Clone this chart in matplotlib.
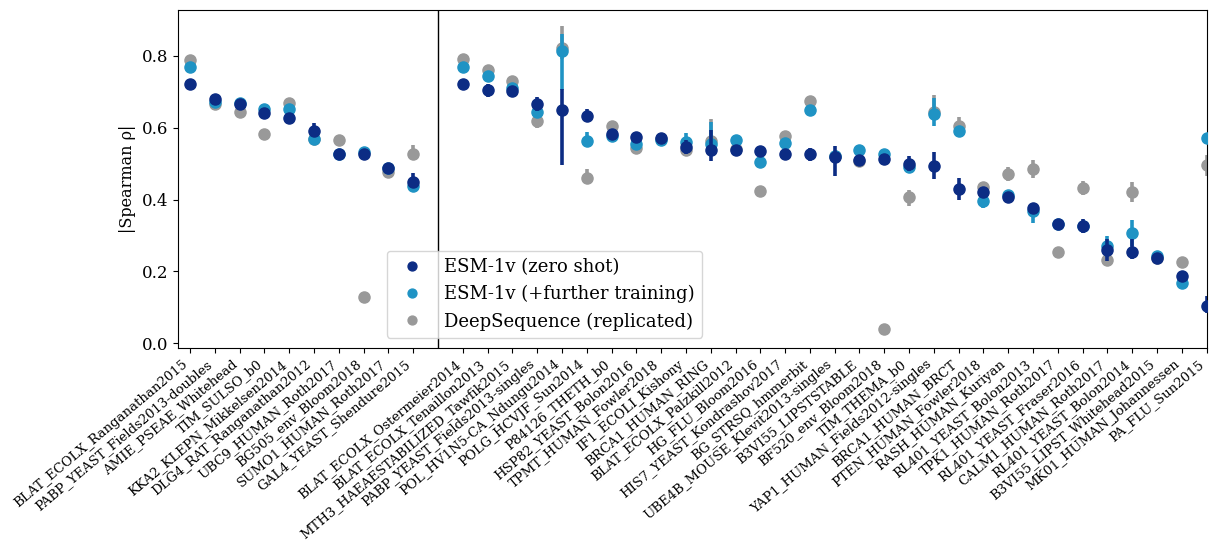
import matplotlib
matplotlib.use("Agg")
import matplotlib.pyplot as plt
import numpy as np

plt.rcParams['font.family'] = ['DejaVu Serif']

group1 = ["BLAT_ECOLX_Ranganathan2015", "PABP_YEAST_Fields2013-doubles", "AMIE_PSEAE_Whitehead",
          "TIM_SULSO_b0", "KKA2_KLEPN_Mikkelsen2014", "DLG4_RAT_Ranganathan2012",
          "UBC9_HUMAN_Roth2017", "BG505_env_Bloom2018", "SUMO1_HUMAN_Roth2017",
          "GAL4_YEAST_Shendure2015"]
group2 = ["BLAT_ECOLX_Ostermeier2014", "BLAT_ECOLX_Tenaillon2013", "MTH3_HAEAESTABILIZED_Tawfik2015",
          "PABP_YEAST_Fields2013-singles", "POL_HV1N5-CA_Ndungu2014", "POLG_HCVJF_Sun2014",
          "P84126_THETH_b0", "HSP82_YEAST_Bolon2016", "TPMT_HUMAN_Fowler2018", "IF1_ECOLI_Kishony",
          "BRCA1_HUMAN_RING", "BLAT_ECOLX_Palzkill2012", "HG_FLU_Bloom2016",
          "HIS7_YEAST_Kondrashov2017", "BG_STRSQ_hmmerbit", "UBE4B_MOUSE_Klevit2013-singles",
          "B3VI55_LIPSTSTABLE", "BF520_env_Bloom2018", "TIM_THEMA_b0",
          "YAP1_HUMAN_Fields2012-singles", "BRCA1_HUMAN_BRCT", "PTEN_HUMAN_Fowler2018",
          "RASH_HUMAN_Kuriyan", "RL401_YEAST_Bolon2013", "TPK1_HUMAN_Roth2017",
          "RL401_YEAST_Fraser2016", "CALM1_HUMAN_Roth2017", "RL401_YEAST_Bolon2014",
          "B3VI55_LIPST_Whitehead2015", "MK01_HUMAN_Johannessen", "PA_FLU_Sun2015"]

zero_shot = [0.723, 0.680, 0.665, 0.641, 0.627, 0.592, 0.527, 0.527, 0.488, 0.449,
             0.722, 0.704, 0.702, 0.666, 0.650, 0.632, 0.583, 0.574, 0.572, 0.546,
             0.539, 0.537, 0.536, 0.528, 0.526, 0.519, 0.511, 0.512, 0.500, 0.493,
             0.429, 0.421, 0.408, 0.376, 0.331, 0.327, 0.260, 0.254, 0.238, 0.186, 0.103]
zero_lo = [0.004, 0.008, 0.008, 0.012, 0.005, 0.012, 0.005, 0.005, 0.015, 0.012,
           0.005, 0.018, 0.010, 0.020, 0.155, 0.015, 0.010, 0.008, 0.005, 0.020,
           0.032, 0.005, 0.005, 0.005, 0.018, 0.054, 0.005, 0.005, 0.020, 0.035,
           0.030, 0.015, 0.010, 0.015, 0.005, 0.020, 0.030, 0.020, 0.008, 0.015, 0.020]
zero_hi = [0.004, 0.008, 0.008, 0.012, 0.005, 0.022, 0.005, 0.005, 0.015, 0.025,
           0.005, 0.018, 0.010, 0.020, 0.058, 0.020, 0.010, 0.008, 0.005, 0.020,
           0.054, 0.005, 0.005, 0.005, 0.018, 0.029, 0.005, 0.005, 0.020, 0.040,
           0.030, 0.015, 0.010, 0.015, 0.005, 0.020, 0.030, 0.035, 0.008, 0.015, 0.028]

further = [0.770, 0.672, 0.670, 0.653, 0.652, 0.568, 0.528, 0.532, 0.487, 0.438,
           0.770, 0.745, 0.710, 0.645, 0.815, 0.563, 0.577, 0.554, 0.566, 0.560,
           0.556, 0.566, 0.506, 0.557, 0.650, 0.520, 0.539, 0.526, 0.491, 0.639,
           0.590, 0.396, 0.414, 0.369, 0.331, 0.327, 0.270, 0.307, 0.243, 0.169, 0.572]
further_lo = [0.005, 0.005, 0.005, 0.005, 0.005, 0.005, 0.005, 0.005, 0.005, 0.005,
              0.005, 0.010, 0.005, 0.010, 0.110, 0.010, 0.005, 0.005, 0.005, 0.020,
              0.020, 0.005, 0.005, 0.005, 0.005, 0.005, 0.005, 0.005, 0.005, 0.035,
              0.010, 0.020, 0.005, 0.035, 0.005, 0.005, 0.030, 0.035, 0.005, 0.005, 0.005]
further_hi = [0.005, 0.005, 0.005, 0.005, 0.005, 0.005, 0.005, 0.005, 0.005, 0.005,
              0.005, 0.010, 0.005, 0.010, 0.045, 0.025, 0.005, 0.005, 0.005, 0.025,
              0.060, 0.005, 0.005, 0.005, 0.005, 0.005, 0.005, 0.005, 0.005, 0.045,
              0.010, 0.010, 0.005, 0.015, 0.005, 0.005, 0.030, 0.035, 0.005, 0.005, 0.005]

deepseq = [0.790, 0.667, 0.645, 0.583, 0.669, 0.568, 0.565, 0.128, 0.476, 0.527,
           0.791, 0.762, 0.730, 0.620, 0.822, 0.461, 0.604, 0.543, 0.568, 0.537,
           0.564, 0.540, 0.424, 0.576, 0.674, 0.520, 0.507, 0.039, 0.406, 0.645,
           0.604, 0.434, 0.471, 0.486, 0.254, 0.433, 0.232, 0.420, 0.238, 0.225, 0.495]
deepseq_lo = [0.005, 0.005, 0.005, 0.005, 0.005, 0.005, 0.005, 0.005, 0.005, 0.010,
              0.005, 0.005, 0.005, 0.022, 0.030, 0.015, 0.005, 0.005, 0.005, 0.010,
              0.020, 0.005, 0.005, 0.005, 0.005, 0.005, 0.005, 0.005, 0.025, 0.010,
              0.010, 0.005, 0.020, 0.025, 0.005, 0.020, 0.005, 0.028, 0.005, 0.005, 0.030]
deepseq_hi = [0.005, 0.005, 0.005, 0.005, 0.005, 0.005, 0.005, 0.005, 0.005, 0.025,
              0.005, 0.005, 0.005, 0.010, 0.060, 0.025, 0.005, 0.005, 0.005, 0.010,
              0.060, 0.005, 0.005, 0.005, 0.005, 0.005, 0.005, 0.005, 0.020, 0.045,
              0.025, 0.005, 0.020, 0.025, 0.005, 0.020, 0.005, 0.028, 0.005, 0.005, 0.030]

labels = group1 + group2
xpos = list(range(len(group1))) + list(range(len(group1) + 1, len(group1) + 1 + len(group2)))
sep = len(group1)

fig = plt.figure(figsize=(12.09, 5.54), dpi=100)
ax = fig.add_axes([0.147, 0.372, 0.851, 0.610])

series = [
    ("DeepSequence (replicated)", deepseq, deepseq_lo, deepseq_hi, "#999999", 2),
    ("ESM-1v (+further training)", further, further_lo, further_hi, "#1f93c4", 3),
    ("ESM-1v (zero shot)", zero_shot, zero_lo, zero_hi, "#0c2c84", 4),
]
handles = {}
for name, vals, lo, hi, col, z in series:
    h = ax.errorbar(xpos, vals, yerr=[lo, hi], fmt='o', color=col, ecolor=col,
                    markersize=8, elinewidth=2.6, capsize=0, zorder=z, label=name)
    handles[name] = h

ax.axvline(sep, color='black', lw=1.0, zorder=1)
ax.set_xlim(-0.5, xpos[-1])
ax.set_ylim(-0.013, 0.928)
ax.set_yticks([0.0, 0.2, 0.4, 0.6, 0.8])
ax.tick_params(axis='y', labelsize=12)
ax.set_xticks(xpos)
ax.set_xticklabels(labels, rotation=40, ha='right', fontsize=9.5, rotation_mode='default')
ax.set_ylabel("|Spearman ρ|", fontsize=11.5)

order = ["ESM-1v (zero shot)", "ESM-1v (+further training)", "DeepSequence (replicated)"]
ax.legend([handles[k][0] for k in order], order, loc='lower left',
          bbox_to_anchor=(0.203, 0.03), borderaxespad=0, fontsize=13, markerscale=0.8)

fig.savefig("out.png", dpi=100)
